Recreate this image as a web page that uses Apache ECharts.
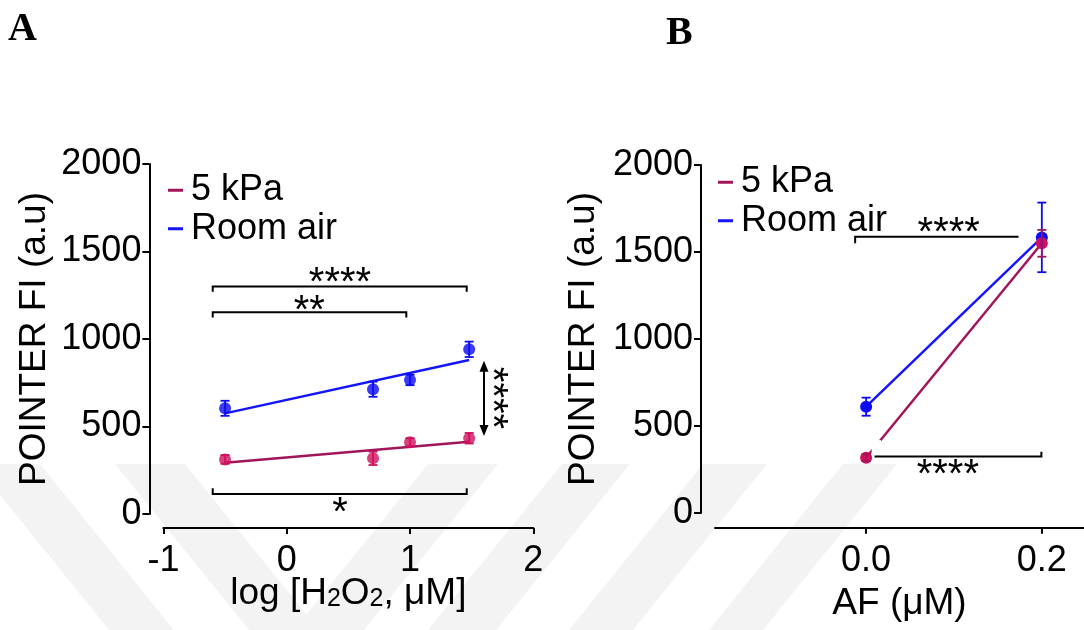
<!DOCTYPE html>
<html><head><meta charset="utf-8">
<script src="https://cdn.jsdelivr.net/npm/echarts@6/dist/echarts.min.js"></script>
<style>html,body{margin:0;padding:0;background:#fff}#c{width:1084px;height:630px}</style>
</head><body><div id="c"></div>
<script>
// ---------- data ----------
const seriesNames = ['5 kPa', 'Room air'];
// Panel A : log [H2O2, uM]
const xA = [-0.5, 0.7, 1.0, 1.48];
const kpaA = [312, 318, 410, 433];
const kpaAErr = [25, 38, 23, 30];
const airA = [604, 713, 766, 941];
const airAErr = [43, 43, 30, 44];
const fitXA = [-0.5, 1.48];
const fitKpaA = [293, 413];
const fitAirA = [575, 880];
// Panel B : AF (uM)
const xB = [0.0, 0.2];
const kpaB = [318, 1550];
const kpaBErr = [20, 77];
const airB = [611, 1584];
const airBErr = [52, 200];
// ticks
const yTicks = [0, 500, 1000, 1500, 2000];
const xTicksA = [-1, 0, 1, 2];
const xTicksB = [0.0, 0.2];

// significance annotations (data coordinates)
const sigA = [
  {kind:'bracket', x1:-0.6, x2:1.46, y:1300, tickL:1270, tickR:1270},
  {kind:'text', text:'****', x:0.432, y:1366},
  {kind:'bracket', x1:-0.6, x2:0.97, y:1153, tickL:1123, tickR:1123},
  {kind:'text', text:'**', x:0.183, y:1207},
  {kind:'bracket', x1:-0.6, x2:1.46, y:114, tickL:147, tickR:147},
  {kind:'text', text:'*', x:0.432, y:51},
  {kind:'arrow', x:1.6, y1:446, y2:876},
  {kind:'text', text:'****', x:1.73, y:663, rotate:true}
];
const sigB = [
  {kind:'bracket', x1:-0.0125, x2:0.1735, y:1588, tickL:1550, tickR:null},
  {kind:'text', text:'****', x:0.094, y:1655},
  {kind:'mask', x1:0.0063, x2:0.017, y1:339, y2:419},
  {kind:'bracket', x1:0.0095, x2:0.1995, y:324, tickL:null, tickR:352},
  {kind:'text', text:'****', x:0.093, y:263}
];

// ---------- styles ----------
const FONT = 'Liberation Sans, Arial, sans-serif';
const C = {kpaM:'#d0105e', kpaL:'#a3155a', airM:'#0a0af5', airL:'#1414ff'};
const FS = 36, STAR = 40;

function errData(xs, ys, es){ return xs.map((x,i)=>[x, ys[i], es[i]]); }
function errRender(color){
  return function(params, api){
    const x = api.value(0), y = api.value(1), e = api.value(2);
    const t = api.coord([x, y+e]), b = api.coord([x, y-e]);
    const hw = 4.5, st = {stroke: color, lineWidth: 1.8};
    return {type:'group', children:[
      {type:'line', shape:{x1:t[0], y1:t[1], x2:b[0], y2:b[1]}, style:st},
      {type:'line', shape:{x1:t[0]-hw, y1:t[1], x2:t[0]+hw, y2:t[1]}, style:st},
      {type:'line', shape:{x1:b[0]-hw, y1:b[1], x2:b[0]+hw, y2:b[1]}, style:st}
    ]};
  };
}
function sigRender(list){
  return function(params, api){
    const a = list[params.dataIndex];
    const P = (x,y)=>api.coord([x,y]);
    if (a.kind === 'bracket'){
      const pts = [];
      if (a.tickL != null) pts.push(P(a.x1, a.tickL));
      pts.push(P(a.x1, a.y), P(a.x2, a.y));
      if (a.tickR != null) pts.push(P(a.x2, a.tickR));
      return {type:'polyline', shape:{points:pts}, style:{stroke:'#000', lineWidth:2, fill:null}};
    }
    if (a.kind === 'text'){
      const p = P(a.x, a.y), off = 0.22*STAR;
      return {type:'text', x: p[0] - (a.rotate ? off : 0), y: p[1] + (a.rotate ? 0 : off),
        rotation: a.rotate ? -Math.PI/2 : 0,
        style:{text:a.text, font: STAR + 'px ' + FONT, fill:'#000', align:'center', verticalAlign:'middle'}};
    }
    if (a.kind === 'arrow'){
      const t = P(a.x, a.y2), b = P(a.x, a.y1), hw = 4.5, hh = 11;
      return {type:'group', children:[
        {type:'line', shape:{x1:t[0], y1:t[1]+hh-1, x2:b[0], y2:b[1]-hh+1}, style:{stroke:'#000', lineWidth:2}},
        {type:'polygon', shape:{points:[[t[0],t[1]],[t[0]-hw,t[1]+hh],[t[0]+hw,t[1]+hh]]}, style:{fill:'#000'}},
        {type:'polygon', shape:{points:[[b[0],b[1]],[b[0]-hw,b[1]-hh],[b[0]+hw,b[1]-hh]]}, style:{fill:'#000'}}
      ]};
    }
    if (a.kind === 'mask'){
      const p1 = P(a.x1, a.y2), p2 = P(a.x2, a.y1);
      return {type:'rect', shape:{x:p1[0], y:p1[1], width:p2[0]-p1[0], height:p2[1]-p1[1]}, style:{fill:'#fff'}};
    }
    return null;
  };
}
function sigData(list){ return list.map(a => [a.x != null ? a.x : a.x1, a.y != null ? a.y : a.y1]); }

// faint background watermark stripes (decoration, page pixels)
function stripe(x1, x2, dir){
  const top = 464, bot = 630, s = 134 * dir;
  return {type:'polygon', z:-10, silent:true,
    shape:{points:[[x1, top], [x2, top], [x2 + s, bot], [x1 + s, bot]]},
    style:{fill:'#f3f3f3'}};
}
const watermark = [
  stripe(-25, 40, 1), stripe(115, 185, 1),
  stripe(428, 498, -1), stripe(562, 630, -1), stripe(703, 767, -1), stripe(843, 897, -1)
];

const axisLine = {show:true, onZero:false, lineStyle:{color:'#000', width:2}};
const axisTick = {show:true, length:7, lineStyle:{color:'#000', width:2}};
const labelStyle = {color:'#000', fontSize:FS, fontFamily:FONT};

function yAxis(gridIndex, gap, margin){
  return {type:'value', gridIndex, min:yTicks[0], max:yTicks[yTicks.length-1], interval:500,
    offset:14, axisLine, axisTick, splitLine:{show:false},
    axisLabel:Object.assign({margin, formatter:v=>String(v)}, labelStyle),
    name:'POINTER FI (a.u)', nameLocation:'middle', nameGap:gap, nameMoveOverlap:false,
    nameTextStyle:{color:'#000', fontSize:37, fontFamily:FONT}};
}

const chart = echarts.init(document.getElementById('c'));
const legendBase = {orient:'vertical', icon:'rect', itemWidth:15, itemHeight:3, itemGap:0,
  selectedMode:false,
  textStyle:{color:'#000', fontSize:FS, fontFamily:FONT, lineHeight:38.5, padding:[0,0,0,3]},
  data:[{name:seriesNames[0], itemStyle:{color:C.kpaL}}, {name:seriesNames[1], itemStyle:{color:C.airL}}]};

chart.setOption({
  animation:false,
  backgroundColor:'#fff',
  graphic:[
    ...watermark,
    {type:'text', left:8, top:10, style:{text:'A', font:'bold 40px Liberation Serif, Times New Roman, serif', fill:'#000'}},
    {type:'text', left:666, top:14, style:{text:'B', font:'bold 40px Liberation Serif, Times New Roman, serif', fill:'#000'}}
  ],
  legend:[
    Object.assign({left:163, top:166}, legendBase),
    Object.assign({left:713, top:158}, legendBase)
  ],
  grid:[
    {left:163.4, top:164, width:369.9, height:350},
    {left:715, top:165, width:369, height:348}
  ],
  xAxis:[
    {type:'value', gridIndex:0, min:xTicksA[0], max:xTicksA[xTicksA.length-1], interval:1, offset:14,
      axisLine, axisTick:Object.assign({}, axisTick, {length:6}), splitLine:{show:false},
      axisLabel:Object.assign({margin:15}, labelStyle),
      name:'log [H{sub|2}O{sub|2}, μM]', nameLocation:'middle', nameGap:47, nameMoveOverlap:false,
      nameTextStyle:{color:'#000', fontSize:37, fontFamily:FONT,
        rich:{sub:{fontSize:25, fontFamily:FONT, color:'#000', verticalAlign:'bottom', padding:[10,0,0,0]}}}},
    {type:'value', gridIndex:1, min:-0.172, max:0.248, offset:14.7,
      axisLine, axisTick:Object.assign({}, axisTick, {length:6, customValues:xTicksB}), splitLine:{show:false},
      axisLabel:Object.assign({margin:15, customValues:xTicksB, formatter:v=>v.toFixed(1)}, labelStyle),
      name:'AF (μM)', nameLocation:'middle', nameGap:58, nameMoveOverlap:false,
      nameTextStyle:{color:'#000', fontSize:37, fontFamily:FONT}}
  ],
  yAxis:[ yAxis(0, 96, 8), yAxis(1, 99, 8) ],
  series:[
    // Panel A
    {name:seriesNames[1], type:'line', xAxisIndex:0, yAxisIndex:0, data:fitXA.map((x,i)=>[x, fitAirA[i]]),
      symbol:'none', lineStyle:{color:C.airL, width:2.5}, z:2},
    {name:seriesNames[0], type:'line', xAxisIndex:0, yAxisIndex:0, data:fitXA.map((x,i)=>[x, fitKpaA[i]]),
      symbol:'none', lineStyle:{color:C.kpaL, width:2.5}, z:2},
    {type:'custom', xAxisIndex:0, yAxisIndex:0, data:errData(xA, airA, airAErr), renderItem:errRender(C.airM), z:3, silent:true},
    {type:'custom', xAxisIndex:0, yAxisIndex:0, data:errData(xA, kpaA, kpaAErr), renderItem:errRender(C.kpaM), z:3, silent:true},
    {name:seriesNames[1], type:'scatter', xAxisIndex:0, yAxisIndex:0, data:xA.map((x,i)=>[x, airA[i]]),
      symbol:'circle', symbolSize:12, itemStyle:{color:C.airM}, z:4},
    {name:seriesNames[0], type:'scatter', xAxisIndex:0, yAxisIndex:0, data:xA.map((x,i)=>[x, kpaA[i]]),
      symbol:'circle', symbolSize:12, itemStyle:{color:C.kpaM}, z:4},
    {type:'custom', xAxisIndex:0, yAxisIndex:0, data:sigData(sigA), renderItem:sigRender(sigA), z:5, silent:true, clip:false},
    // Panel B
    {type:'custom', xAxisIndex:1, yAxisIndex:1, data:errData(xB, airB, airBErr), renderItem:errRender(C.airM), z:3, silent:true},
    {type:'custom', xAxisIndex:1, yAxisIndex:1, data:errData(xB, kpaB, kpaBErr), renderItem:errRender(C.kpaL), z:3, silent:true},
    {name:seriesNames[1], type:'line', xAxisIndex:1, yAxisIndex:1, data:xB.map((x,i)=>[x, airB[i]]),
      symbol:'circle', symbolSize:12, showAllSymbol:true, lineStyle:{color:C.airL, width:2.5}, itemStyle:{color:C.airM}, z:2},
    {name:seriesNames[0], type:'line', xAxisIndex:1, yAxisIndex:1, data:xB.map((x,i)=>[x, kpaB[i]]),
      symbol:'circle', symbolSize:12, showAllSymbol:true, lineStyle:{color:C.kpaL, width:2.5}, itemStyle:{color:C.kpaM}, z:2},
    {type:'custom', xAxisIndex:1, yAxisIndex:1, data:sigData(sigB), renderItem:sigRender(sigB), z:5, silent:true, clip:false}
  ]
});
</script>
</body></html>
